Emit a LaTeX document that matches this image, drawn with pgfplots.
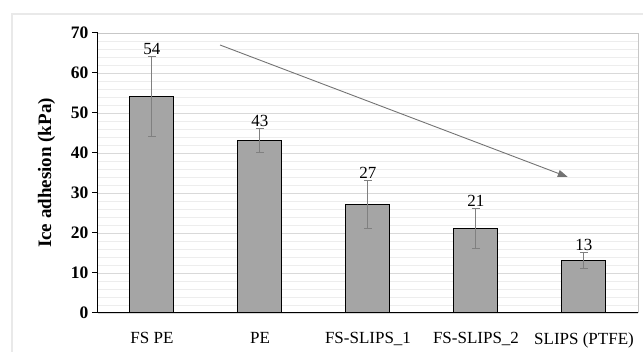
\documentclass[border=0pt]{standalone}
\usepackage{fontspec}
\setmainfont{Liberation Serif}
\usepackage{pgfplots}
\pgfplotsset{compat=1.18}
\usetikzlibrary{arrows.meta}
\definecolor{barfill}{HTML}{A5A5A5}
\definecolor{errc}{HTML}{808080}
\definecolor{majg}{HTML}{D9D9D9}
\definecolor{ming}{HTML}{EDEDED}
\begin{document}
\begin{tikzpicture}
\begin{axis}[
  scale only axis, width=540pt, height=280pt,
  xmin=-0.5, xmax=4.5, ymin=0, ymax=70,
  axis lines=left, axis line style={-, black, line width=1pt},
  ytick={0,10,...,70}, minor y tick num=4,
  ymajorgrids, yminorgrids,
  major grid style={majg, line width=0.8pt},
  minor grid style={ming, line width=0.8pt},
  tick align=outside, major tick length=6pt, minor tick length=0pt,
  tick style={black, line width=1pt},
  xtick={0,1,2,3,4},
  xticklabels={FS PE, PE, FS-SLIPS\_1, FS-SLIPS\_2, SLIPS (PTFE)},
  x tick style={draw=none},
  extra x ticks={-0.5,0.5,1.5,2.5,3.5,4.5},
  extra x tick labels={},
  extra x tick style={tick style={black, line width=1pt}, major tick length=7pt},
  /pgf/number format/assume math mode=true,
  xticklabel style={font=\fontsize{17}{20}\selectfont, yshift=-10pt},
  yticklabel style={font=\fontsize{17.5}{20}\selectfont\bfseries},
  ylabel={Ice adhesion (kPa)},
  ylabel style={font=\fontsize{19}{22}\selectfont\bfseries, yshift=9pt},
  clip=false,
]
\draw[majg!80!gray, line width=0.8pt] (rel axis cs:0,1) -- (rel axis cs:1,1) -- (rel axis cs:1,0);
\addplot[ybar, bar width=44pt, fill=barfill, draw=black, line width=1pt,
  error bars/.cd, y dir=both, y explicit,
  error bar style={errc, line width=1pt},
  error mark options={rotate=90, mark size=4pt, errc, line width=1pt}]
  table[x=x, y=y, y error=e] {
x y e
0 54 10
1 43 3
2 27 6
3 21 5
4 13 2
};
\addplot[draw=none, mark=none, nodes near coords, point meta=explicit symbolic,
  nodes near coords style={anchor=south, font=\fontsize{17}{20}\selectfont, inner sep=2pt, black}]
  table[x=x, y=y, meta=l] {
x y l
0 64 54
1 46 43
2 33 27
3 26 21
4 15 13
};
\addplot[errc!90!black, line width=0.9pt, -{Triangle[length=10pt, width=7pt]}]
  coordinates {(0.63,67) (3.85,34)};
\coordinate (O) at (rel axis cs:0,0);
\end{axis}
\draw[ming!80!majg, line width=1.5pt] ([shift={(-86pt,-60pt)}]O) -- ([shift={(-86pt,299pt)}]O) -- ([shift={(600pt,299pt)}]O);
\pgfresetboundingbox
\path ([shift={(-98pt,-39pt)}]O) rectangle ([shift={(545pt,313pt)}]O);
\end{tikzpicture}
\end{document}
